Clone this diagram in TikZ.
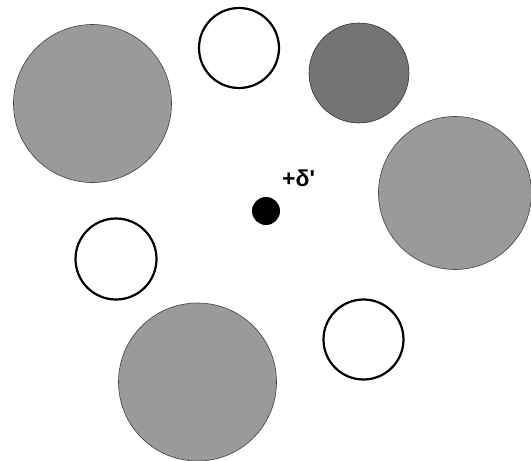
\documentclass[tikz,border=0pt]{standalone}
\usepackage{fontspec}
\setmainfont{Liberation Sans}
\usetikzlibrary{positioning}
\definecolor{solvgrey}{HTML}{9A9A9A}
\definecolor{solvdark}{HTML}{747474}
\tikzset{
    shaded/.style={
        circle, inner sep=0pt, fill=solvgrey, draw=black!75, line width=0.6pt
    },
    darkshaded/.style={
        circle, inner sep=0pt, fill=solvdark, draw=black!80, line width=0.6pt
    },
    hollow/.style={
        circle, inner sep=0pt, fill=white, draw=black, line width=2.2pt
    },
    ion/.style={
        circle, inner sep=0pt, fill=black, minimum size=28pt
    },
    charge/.style={
        inner sep=0pt, font=\fontsize{23}{26}\selectfont\bfseries
    }
}
\begin{document}
\begin{tikzpicture}[x=1pt, y=-1pt]
    \useasboundingbox (0,0) rectangle (531,461);

    \node[shaded, minimum size=158pt]     (bigTL)    at (92.5,103.5) {};
    \node[hollow, minimum size=80pt]      (smallT)   at (239,48)     {};
    \node[darkshaded, minimum size=100pt] (darkTR)   at (359,73)     {};
    \node[shaded, minimum size=153pt]     (bigR)     at (455,193)    {};
    \node[ion]                            (center)   at (266,211)    {};
    \node[hollow, minimum size=81pt]      (smallL)   at (116,259)    {};
    \node[shaded, minimum size=158pt]     (bigB)     at (197.5,382)  {};
    \node[hollow, minimum size=80pt]      (smallBR)  at (363.5,339.5){};

    \node[charge, above right=14pt and 6pt of center] (delta) {+δ\textquotesingle};

\end{tikzpicture}
\end{document}
